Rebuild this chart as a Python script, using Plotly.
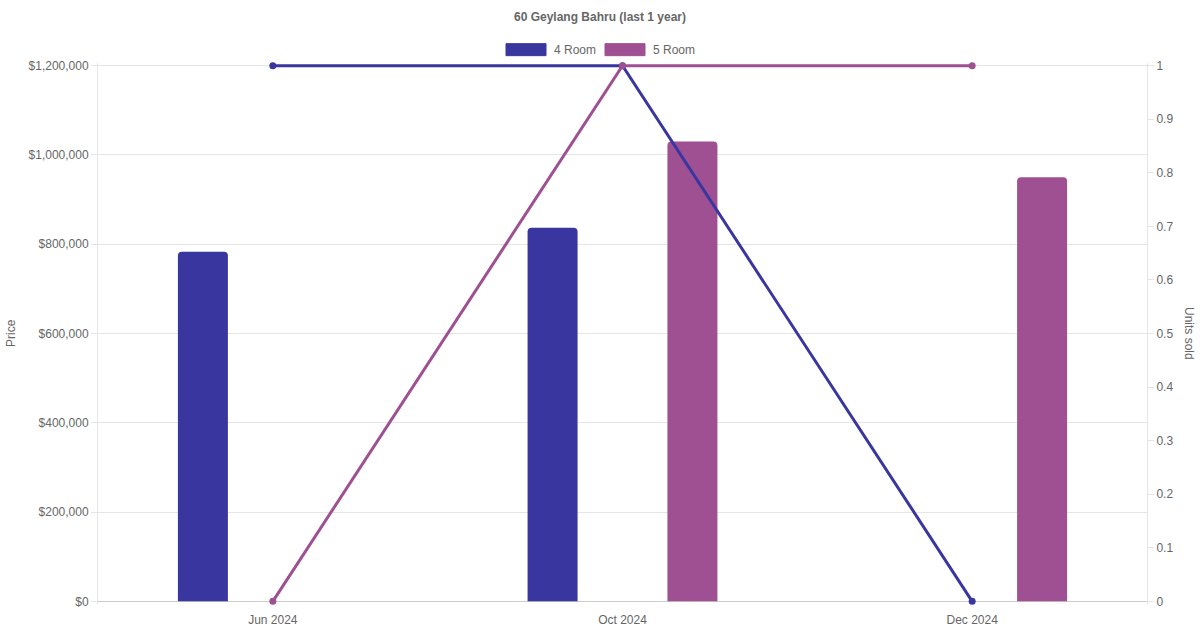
import plotly.graph_objects as go

months = ["Jun 2024", "Oct 2024", "Dec 2024"]
price_4room = [783000, 837000, None]
price_5room = [None, 1030000, 950000]
units_4room = [1, 1, 0]
units_5room = [0, 1, 1]
price_ticks = [0, 200000, 400000, 600000, 800000, 1000000, 1200000]
unit_ticks = [0, 0.1, 0.2, 0.3, 0.4, 0.5, 0.6, 0.7, 0.8, 0.9, 1]

c4 = "rgb(58,54,160)"
c5 = "rgb(158,80,146)"
grey = "#666666"
font = "Liberation Sans, Arial, sans-serif"

# a little padding top/bottom so the lines at 0 and 1 are not clipped
pad = 0.005
top_px, bot_px = 66, 601
span = bot_px - top_px
t_m = top_px - span * pad
b_m = 630 - (bot_px + span * pad)


def py(p):
    # pixel row -> paper fraction
    return (bot_px + span * pad - p) / (span * (1 + 2 * pad))


fig = go.Figure()

# bars (price, left axis)
fig.add_trace(go.Bar(x=months, y=price_4room, name="4 Room", marker_color=c4,
                     marker_line_width=0, width=0.143, offset=-0.2715, showlegend=False))
fig.add_trace(go.Bar(x=months, y=price_5room, name="5 Room", marker_color=c5,
                     marker_line_width=0, width=0.143, offset=0.1285, showlegend=False))

# lines (units sold, right axis)
fig.add_trace(go.Scatter(x=months, y=units_4room, yaxis="y2", mode="lines+markers",
                         line=dict(color=c4, width=3), marker=dict(size=7, color=c4),
                         cliponaxis=False, showlegend=False))
fig.add_trace(go.Scatter(x=months, y=units_5room, yaxis="y2", mode="lines+markers",
                         line=dict(color=c5, width=3), marker=dict(size=7, color=c5),
                         cliponaxis=False, showlegend=False))

# legend drawn by hand so the swatches look like wide boxes
shapes = []
annotations = []
for x0, col, label in [(506, c4, "4 Room"), (605, c5, "5 Room")]:
    shapes.append(dict(type="rect", xref="paper", yref="paper",
                       x0=(x0 - 98) / 1049, x1=(x0 + 40 - 98) / 1049,
                       y0=py(56), y1=py(44),
                       fillcolor=col, line=dict(color=col, width=1)))
    annotations.append(dict(text=label, xref="paper", yref="paper",
                            x=(x0 + 46 - 98) / 1049, y=py(50),
                            xanchor="left", yanchor="middle", showarrow=False,
                            font=dict(size=12, color=grey, family=font)))

annotations.append(dict(text="Price", xref="paper", yref="paper",
                        x=(11 - 98) / 1049, y=py(333), textangle=-90, showarrow=False,
                        xanchor="center", yanchor="middle",
                        font=dict(size=12, color=grey, family=font)))
annotations.append(dict(text="Units sold", xref="paper", yref="paper",
                        x=(1189 - 98) / 1049, y=py(333), textangle=90, showarrow=False,
                        xanchor="center", yanchor="middle",
                        font=dict(size=12, color=grey, family=font)))

fig.update_layout(
    template="none",
    width=1200, height=630,
    margin=dict(l=98, r=53, t=t_m, b=b_m, pad=0),
    paper_bgcolor="white", plot_bgcolor="white",
    font=dict(family=font, size=12, color=grey),
    title=dict(text="<b>60 Geylang Bahru (last 1 year)</b>", x=0.5, xanchor="center",
               y=1 - 17 / 630, yanchor="middle", font=dict(size=12, color=grey, family=font)),
    barmode="overlay",
    barcornerradius=4,
    showlegend=False,
    shapes=shapes,
    annotations=annotations,
    xaxis=dict(type="category", showgrid=False, showline=False, zeroline=False,
               automargin=False, ticks="outside", ticklen=5, tickcolor="rgba(0,0,0,0)",
               tickfont=dict(size=12, color=grey)),
    yaxis=dict(range=[-1200000 * pad, 1200000 * (1 + pad)], tickvals=price_ticks,
               ticktext=["${:,}".format(v) for v in price_ticks], automargin=False,
               showgrid=True, gridcolor="#e5e5e5", gridwidth=1,
               zeroline=True, zerolinecolor="#cccccc", zerolinewidth=1,
               showline=True, linecolor="#e5e5e5", linewidth=1,
               ticks="outside", ticklen=6, tickcolor="#e5e5e5",
               tickfont=dict(size=12, color=grey)),
    yaxis2=dict(range=[-pad, 1 + pad], tickvals=unit_ticks,
                ticktext=["{:g}".format(v) for v in unit_ticks], automargin=False,
                overlaying="y", side="right",
                showgrid=False, zeroline=False, showline=True, linecolor="#e5e5e5", linewidth=1,
                ticks="outside", ticklen=6, tickcolor="#e5e5e5",
                tickfont=dict(size=12, color=grey)),
)

fig.write_html("out.html", config={"displayModeBar": False},
               post_script="document.body.style.margin='0';")
